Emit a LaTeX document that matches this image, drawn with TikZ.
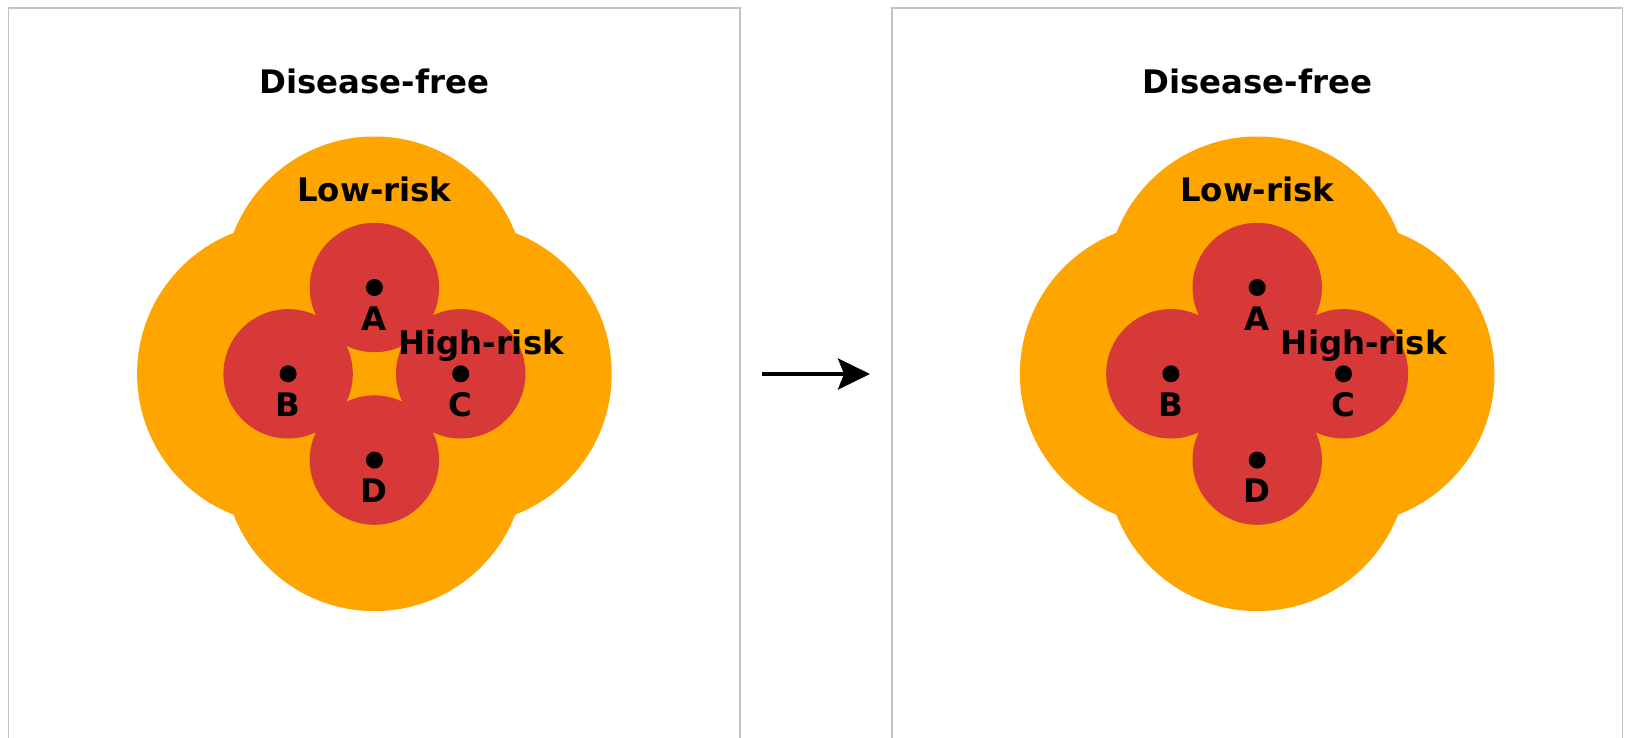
\documentclass[tikz,border=0pt]{standalone}
\usepackage{fontspec}
\setmainfont{DejaVu Sans}
\usetikzlibrary{arrows.meta}
\definecolor{lowfill}{RGB}{255,165,0}
\definecolor{highfill}{RGB}{215,56,56}
\definecolor{framegray}{RGB}{196,196,196}
\tikzset{
  panelframe/.style={draw=framegray, line width=0.65pt},
  lowzone/.style={fill=lowfill},
  highzone/.style={fill=highfill},
  sitedot/.style={circle, fill=black, inner sep=0pt, minimum size=8.5pt},
  biglabel/.style={font=\bfseries\fontsize{16.2pt}{19pt}\selectfont, inner sep=0pt, anchor=base},
  flowarrow/.style={-{Stealth[length=16pt, width=15.5pt, inset=3pt]}, line width=1.65pt},
}
% #1 = name prefix, #2 = centre x, #3 = 1 when the high-risk zones are merged
\newcommand\riskpanel[3]{%
  \begin{scope}[shift={(#2,373.8)}]
    % low-risk zone: union of wide discs around the four sites
    \fill[lowzone] (0,-86.3) circle[radius=151] (-86.3,0) circle[radius=151]
                   (86.3,0) circle[radius=151] (0,86.3) circle[radius=151];
    % high-risk zones
    \fill[highzone] (0,-86.3) circle[radius=64.7] (-86.3,0) circle[radius=64.7]
                    (86.3,0) circle[radius=64.7] (0,86.3) circle[radius=64.7];
    \ifnum#3=1
      \fill[highzone] (0,-86.3) -- (86.3,0) -- (0,86.3) -- (-86.3,0) -- cycle;
    \fi
    % sites
    \node[sitedot] (#1A) at (0,-86.3) {};
    \node[sitedot] (#1B) at (-86.3,0) {};
    \node[sitedot] (#1C) at (86.3,0) {};
    \node[sitedot] (#1D) at (0,86.3) {};
    \node[biglabel] (#1Alab) at (0,-43.8) {A};
    \node[biglabel] (#1Blab) at (-86.3,42.5) {B};
    \node[biglabel] (#1Clab) at (86.3,42.5) {C};
    \node[biglabel] (#1Dlab) at (0,128.8) {D};
    % zone names
    \node[biglabel] (#1free) at (0,-279.8) {Disease-free};
    \node[biglabel] (#1low) at (0,-171.8) {Low-risk};
    \node[biglabel] (#1high) at (106.6,-19.8) {High-risk};
  \end{scope}%
}
\begin{document}
\begin{tikzpicture}[x=0.5pt, y=-0.5pt]
\useasboundingbox (0,0) rectangle (1629,738);
% panel frames (open at the bottom)
\draw[panelframe] (8.7,760) -- (8.7,8) -- (740,8) -- (740,760);
\draw[panelframe] (892,760) -- (892,8) -- (1622.7,8) -- (1622.7,760);
\riskpanel{L}{374.4}{0}
\riskpanel{R}{1257.2}{1}
% transition arrow between the panels
\coordinate (arrowtail) at (762,374);
\coordinate (arrowtip) at (870,374);
\draw[flowarrow] (arrowtail) -- (arrowtip);
\end{tikzpicture}
\end{document}
